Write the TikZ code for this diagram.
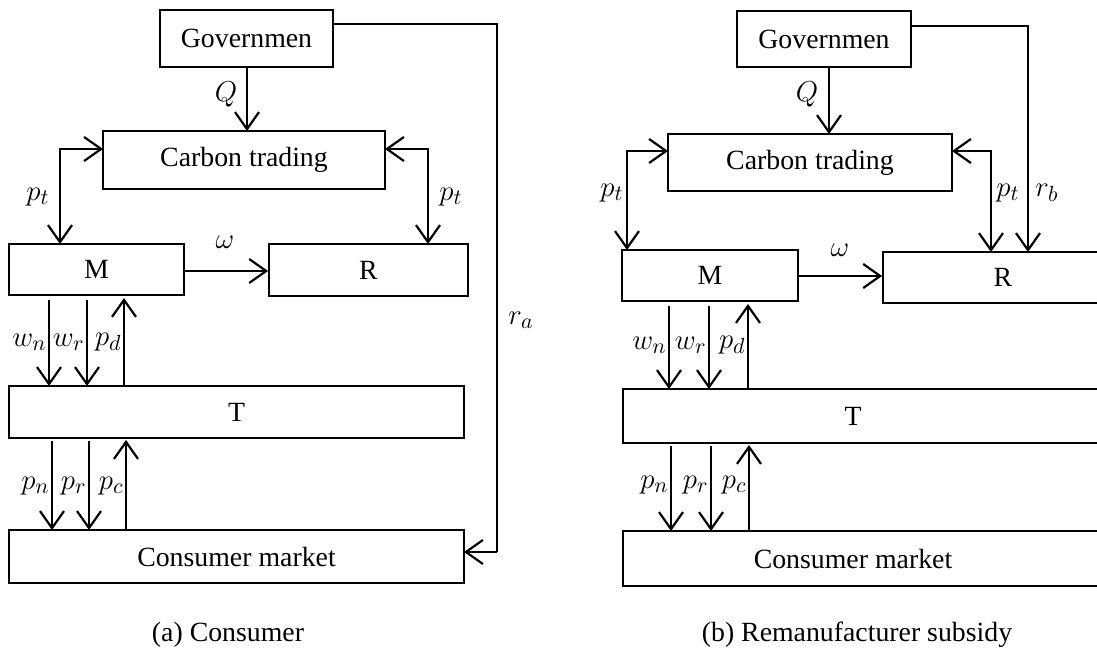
\documentclass[tikz,border=0pt]{standalone}
\usepackage{fontspec}
\setmainfont{Liberation Serif}
\usetikzlibrary{arrows.meta}
\begin{document}
\begin{tikzpicture}[x=0.5pt,y=-0.5pt,
  every node/.style={font=\fontsize{13.9}{16}\selectfont, inner sep=0pt},
  box/.style={draw, line width=0.9pt, rectangle},
  conn/.style={line width=1.1pt, -{Straight Barb[length=8.5pt,width=12pt,line width=1.1pt]}},
  biconn/.style={line width=1.1pt, {Straight Barb[length=8.5pt,width=12pt,line width=1.1pt]}-{Straight Barb[length=8.5pt,width=12pt,line width=1.1pt]}},
  plain/.style={line width=1.1pt},
  lab/.style={anchor=center, font=\fontsize{15.5}{17}\selectfont},
  labe/.style={anchor=east, font=\fontsize{15.5}{17}\selectfont}]
\useasboundingbox (0,0) rectangle (1097,652);
% ---------- (a) ----------
\node[box, minimum width=86.5pt, minimum height=28.5pt] (ga) at (246.5,38.5) {Governmen};
\node[box, minimum width=141pt, minimum height=29pt] (ca) at (244,160) {Carbon trading};
\node[box, minimum width=87.5pt, minimum height=25.5pt] (ma) at (96.5,269.5) {M};
\node[box, minimum width=99.5pt, minimum height=26pt] (ra) at (368.5,270) {R};
\node[box, minimum width=227.5pt, minimum height=26pt] (ta) at (236.5,412) {T};
\node[box, minimum width=227.5pt, minimum height=26.5pt] (cma) at (236.5,556.5) {Consumer market};
\coordinate (qa1) at (247,67);
\coordinate (qa2) at (247,131);
\draw[conn] (qa1) -- (qa2);
\node[lab] (lqa) at (226,94) {$Q$};
\coordinate (pla1) at (60,244);
\coordinate (pla2) at (103,149);
\draw[biconn] (pla1) |- (pla2);
\node[lab] (lpla) at (38,197) {$p_t$};
\coordinate (pra1) at (385,149);
\coordinate (pra2) at (428,244);
\draw[biconn] (pra1) -| (pra2);
\node[lab] (lpra) at (451,197) {$p_t$};
\draw[conn] (ma.east |- 0,271) -- (ra.west |- 0,271);
\node[lab] (lwa) at (225,242) {$\omega$};
\coordinate (gra1) at (333,24);
\coordinate (gra2) at (497,24);
\coordinate (gra3) at (497,552);
\coordinate (gra4) at (464,552);
\draw[plain] (gra1) -- (gra2) -- (gra3);
\draw[conn] (gra3) -- (gra4);
\node[lab] (lra) at (521,320) {$r_a$};
% M -> T
\draw[conn] (49,300) -- (49,386);
\draw[conn] (87,300) -- (87,386);
\draw[conn] (124,386) -- (124,298);
\node[labe] (lwna) at (47,342) {$w_n$};
\node[labe] (lwra) at (85,342) {$w_r$};
\node[labe] (lpda) at (122,342) {$p_d$};
% T -> CM
\draw[conn] (52,441) -- (52,530);
\draw[conn] (89,441) -- (89,530);
\draw[conn] (126,530) -- (126,440);
\node[labe] (lpna) at (50,486) {$p_n$};
\node[labe] (lprna) at (87,486) {$p_r$};
\node[labe] (lpca) at (124,486) {$p_c$};
\node (capa) at (228,635) {(a) Consumer};
% ---------- (b) ----------
\node[box, minimum width=87pt, minimum height=28pt] (gb) at (824,39) {Governmen};
\node[box, minimum width=142pt, minimum height=28.5pt] (cb) at (810,162.5) {Carbon trading};
\node[box, minimum width=88pt, minimum height=25.5pt] (mb) at (710,275.5) {M};
\node[box, minimum width=120pt, minimum height=25.5pt] (rb) at (1003,277.5) {R};
\node[box, minimum width=244pt, minimum height=27pt, anchor=west] (tb) at (622,416) {};
\node (ltb) at (853,416) {T};
\node[box, minimum width=244pt, minimum height=27.5pt, anchor=west] (cmb) at (622,558.5) {};
\node (lcmb) at (853,558.5) {Consumer market};
\draw[conn] (829,67) -- (829,134);
\node[lab] (lqb) at (807,94) {$Q$};
\coordinate (plb1) at (627,250);
\coordinate (plb2) at (668,151);
\draw[biconn] (plb1) |- (plb2);
\node[lab] (lplb) at (612,193) {$p_t$};
\coordinate (prb1) at (952,151);
\coordinate (prb2) at (991,252);
\draw[biconn] (prb1) -| (prb2);
\node[lab] (lprb) at (1008,193) {$p_t$};
\coordinate (grb1) at (911,26);
\coordinate (grb2) at (1028,26);
\coordinate (grb3) at (1028,252);
\draw[conn] (grb1) -- (grb2) -- (grb3);
\node[lab] (lrb) at (1047,193) {$r_b$};
\draw[conn] (mb.east |- 0,276) -- (rb.west |- 0,276);
\node[lab] (lwb) at (840,250) {$\omega$};
\draw[conn] (669,306) -- (669,389);
\draw[conn] (709,306) -- (709,389);
\draw[conn] (748,389) -- (748,304);
\node[labe] (lwnb) at (667,345) {$w_n$};
\node[labe] (lwrb) at (707,345) {$w_r$};
\node[labe] (lpdb) at (746,345) {$p_d$};
\draw[conn] (671,446) -- (671,531);
\draw[conn] (711,446) -- (711,531);
\draw[conn] (749,530) -- (749,445);
\node[labe] (lpnb) at (669,485) {$p_n$};
\node[labe] (lprb2) at (709,485) {$p_r$};
\node[labe] (lpcb) at (747,485) {$p_c$};
\node (capb) at (857,635) {(b) Remanufacturer subsidy};
\end{tikzpicture}
\end{document}
